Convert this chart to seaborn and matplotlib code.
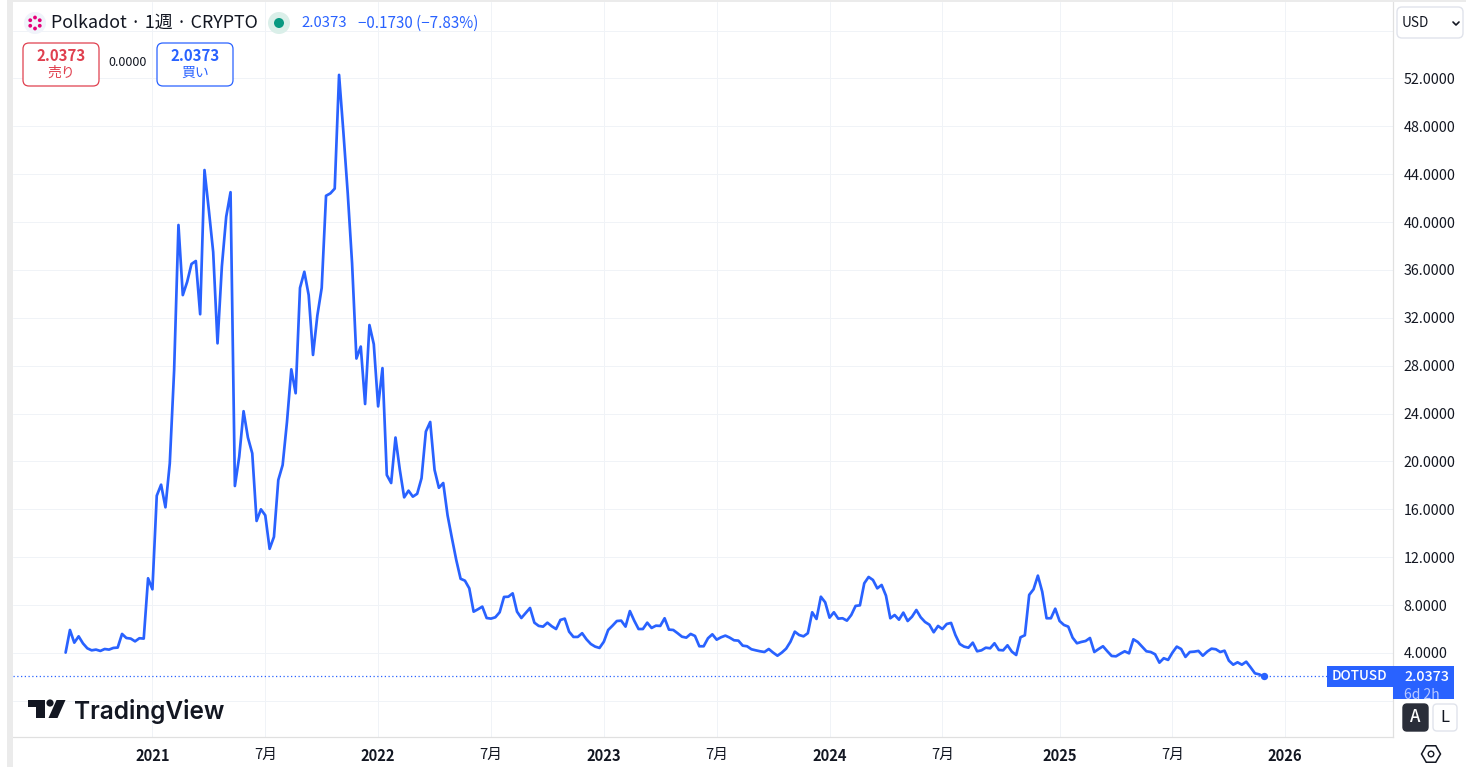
import numpy as np
import pandas as pd
import matplotlib.pyplot as plt
from matplotlib.patches import FancyBboxPatch, Rectangle, Circle, Polygon, RegularPolygon
import seaborn as sns

# weekly closes
price = [
    4.03, 5.92, 4.86, 5.39, 4.8, 4.39, 4.22, 4.28, 4.17, 4.33,
    4.28, 4.42, 4.45, 5.59, 5.25, 5.2, 4.97, 5.23, 5.2, 10.24,
    9.32, 17.14, 18.06, 16.17, 19.84, 27.6, 39.76, 33.9, 35.0, 36.5,
    36.75, 32.3, 44.35, 41.0, 37.5, 29.87, 36.3, 40.45, 42.5, 17.95,
    20.4, 24.2, 22.0, 20.68, 15.03, 16.0, 15.5, 12.7, 13.7, 18.45,
    19.7, 23.3, 27.7, 25.7, 34.5, 35.85, 33.9, 28.9, 32.2, 34.5,
    42.2, 42.4, 42.8, 52.3, 47.5, 42.4, 36.55, 28.6, 29.6, 24.8,
    31.4, 29.8, 24.6, 27.8, 18.87, 18.2, 22.0, 19.3, 17.0, 17.56,
    17.06, 17.3, 18.6, 22.5, 23.3, 19.3, 17.8, 18.2, 15.5, 13.6,
    11.77, 10.2, 10.04, 9.4, 7.45, 7.65, 7.87, 6.92, 6.87, 6.98,
    7.4, 8.68, 8.7, 8.98, 7.45, 6.92, 7.34, 7.76, 6.53, 6.26,
    6.2, 6.53, 6.23, 6.0, 6.76, 6.87, 5.78, 5.34, 5.34, 5.65,
    5.14, 4.75, 4.53, 4.42, 4.94, 5.92, 6.28, 6.67, 6.7, 6.2,
    7.5, 6.7, 6.0, 6.0, 6.53, 6.09, 6.28, 6.26, 6.9, 5.95,
    5.92, 5.65, 5.36, 5.28, 5.59, 5.42, 4.56, 4.56, 5.23, 5.56,
    5.11, 5.31, 5.45, 5.28, 5.06, 5.03, 4.61, 4.56, 4.31, 4.22,
    4.14, 4.08, 4.33, 4.03, 3.77, 4.03, 4.36, 4.94, 5.78, 5.5,
    5.39, 5.65, 7.4, 6.84, 8.7, 8.23, 6.95, 7.4, 6.87, 6.9,
    6.7, 7.17, 7.93, 7.98, 9.82, 10.35, 10.1, 9.4, 9.68, 8.79,
    6.9, 7.17, 6.78, 7.37, 6.67, 7.03, 7.59, 6.98, 6.59, 6.36,
    5.73, 6.26, 6.0, 6.42, 6.51, 5.5, 4.75, 4.53, 4.44, 4.86,
    4.14, 4.22, 4.44, 4.39, 4.81, 4.25, 4.22, 4.64, 4.11, 3.83,
    5.31, 5.48, 8.85, 9.32, 10.46, 9.12, 6.9, 6.9, 7.7, 6.67,
    6.34, 6.2, 5.28, 4.81, 4.92, 5.0, 5.25, 4.08, 4.33, 4.56,
    4.14, 3.75, 3.72, 3.94, 4.14, 3.97, 5.14, 4.92, 4.53, 4.14,
    4.08, 3.89, 3.19, 3.56, 3.42, 4.03, 4.53, 4.33, 3.67, 4.08,
    4.11, 4.17, 3.77, 4.11, 4.36, 4.31, 4.08, 4.19, 3.36, 3.02,
    3.22, 3.02, 3.27, 2.8, 2.3, 2.21, 2.0373,
]
y_grid = list(range(0, 60, 4))
y_labeled = list(range(4, 56, 4))
x_ticks = ['2021-01-04', '2021-07-05', '2022-01-03', '2022-07-04', '2023-01-02', '2023-07-03',
           '2024-01-01', '2024-07-01', '2025-01-06', '2025-07-07', '2026-01-05']
x_labels = ['2021', '7月', '2022', '7月', '2023', '7月', '2024', '7月', '2025', '7月', '2026']

BLUE = '#2962ff'
INK = '#131722'
GRID = '#f0f3f7'
EDGE = '#e0e3eb'
RED = '#e0404f'
JP = ['Noto Sans CJK JP', 'DejaVu Sans']

sns.set_theme(style='whitegrid', rc={'grid.color': GRID, 'grid.linewidth': 0.72,
                                     'axes.edgecolor': '#e0e0e0', 'axes.linewidth': 0.9})
plt.rcParams['font.family'] = JP

df = pd.DataFrame({'date': pd.date_range('2020-08-17', periods=len(price), freq='W-MON'), 'price': price})

fig = plt.figure(figsize=(14.66, 7.67), dpi=100)
ax = fig.add_axes([13 / 1466, 1 - 736.5 / 767, (1392.5 - 13) / 1466, (736.5 - 2) / 767])

sns.lineplot(data=df, x='date', y='price', color=BLUE, linewidth=1.95, ax=ax, zorder=3)
sns.scatterplot(data=df.tail(1), x='date', y='price', color=BLUE, s=28, linewidth=0, ax=ax, zorder=4)
ax.axhline(price[-1], color=BLUE, linestyle=(0, (1, 2)), linewidth=0.9, zorder=2)

start = df['date'].iloc[0]
ax.set_xlim(start - pd.Timedelta(weeks=12.12), start + pd.Timedelta(weeks=305.7))
ax.set_ylim(-2.98, 58.39)

ax.set_xticks(pd.to_datetime(x_ticks))
ax.set_xticklabels(x_labels, fontsize=10.6, color=INK)
for lab, txt in zip(ax.get_xticklabels(), x_labels):
    if txt != '7月':
        lab.set_fontweight('bold')
ax.yaxis.tick_right()
ax.set_yticks(y_grid)
ax.set_yticklabels([f'{v:.4f}' if v in y_labeled else '' for v in y_grid], fontsize=10.3, color=INK, ha='left')
ax.tick_params(axis='y', length=0, pad=8)
ax.tick_params(axis='x', length=0, pad=8)
ax.set_xlabel('')
ax.set_ylabel('')
ax.spines['top'].set_visible(False)
ax.spines['left'].set_visible(False)

# page furniture, laid out in pixel coordinates
ov = fig.add_axes([0, 0, 1, 1], facecolor='none')
ov.set_xlim(0, 1466)
ov.set_ylim(767, 0)
ov.axis('off')


def box(x0, y0, x1, y1, fc='white', ec=EDGE, r=4, lw=1.0, z=5):
    ov.add_patch(FancyBboxPatch((x0 + r, y0 + r), x1 - x0 - 2 * r, y1 - y0 - 2 * r,
                                boxstyle=f'round,pad={r},rounding_size={r}', fc=fc, ec=ec, lw=lw, zorder=z))


def label(x, y, s, size=9.6, color=INK, ha='center', weight='normal', z=6, **kw):
    ov.text(x, y, s, fontsize=size, color=color, ha=ha, va='center', fontweight=weight, zorder=z, family=JP, **kw)


# window edges
ov.add_patch(Rectangle((7, 0), 6, 767, fc='#ebebeb', ec='none'))
ov.add_patch(Rectangle((13, 0), 1453, 2, fc='#ebebeb', ec='none'))

# header
ov.add_patch(Circle((35, 23), 11, fc='#f0f3fa', ec='none', zorder=5))
for a in np.arange(0, 360, 60):
    ov.add_patch(Circle((35 + 5.5 * np.cos(np.radians(a + 30)), 23 + 5.5 * np.sin(np.radians(a + 30))), 1.9,
                        fc='#e6007a', ec='none', zorder=6))
label(51, 23, 'Polkadot · 1週 · CRYPTO', size=12.9, ha='left')
ov.add_patch(Circle((279, 23), 11, fc='#daefe9', ec='none', zorder=5))
ov.add_patch(Circle((279, 23), 5, fc='#089981', ec='none', zorder=6))
label(301, 23, '2.0373', size=10.7, color=BLUE, ha='left')
label(358, 23, '−0.1730 (−7.83%)', size=10.9, color=BLUE, ha='left')

# sell / buy buttons
box(23, 43, 99, 86, ec=RED, r=6, lw=0.9)
label(61, 56, '2.0373', size=10.8, color=RED, weight='bold')
label(61, 73, '売り', size=10, color=RED)
label(128, 63, '0.0000', size=9)
box(157, 43, 233, 86, ec=BLUE, r=6, lw=0.9)
label(195, 56, '2.0373', size=10.8, color=BLUE, weight='bold')
label(195, 73, '買い', size=10, color=BLUE)

# currency selector
box(1397, 7, 1463, 38, ec=EDGE, r=5)
label(1415, 23, 'USD', size=9.8)
ov.plot([1453, 1456, 1459], [22, 25, 22], color=INK, lw=1.2, zorder=6)

# last price tags
ov.add_patch(Rectangle((1327, 666), 65.5, 21, fc=BLUE, ec='none', zorder=5))
label(1359.5, 676.5, 'DOTUSD', size=9.8, color='white', weight='medium')
ov.add_patch(Rectangle((1393, 666), 61, 33, fc=BLUE, ec='none', zorder=5))
label(1426.5, 677, '2.0373', size=10.3, color='white', weight='medium')
t = ov.text(1404, 695, '6d 2h', fontsize=10, color='#b8c9ff', ha='left', va='center', family=JP, zorder=6)
t.set_clip_path(Rectangle((1393, 666), 61, 33, transform=ov.transData))

# A / L buttons
box(1403, 704, 1428, 731, fc='#2a2e39', ec='#2a2e39', r=4)
label(1415.5, 717.5, 'A', size=12, color='white', weight='medium')
box(1433, 704, 1457, 731, ec=EDGE, r=4)
label(1445, 717.5, 'L', size=12)

# settings hexagon
ov.add_patch(RegularPolygon((1431, 754), 6, radius=9.5, orientation=np.pi / 6, fc='white', ec=INK, lw=1.1, zorder=6))
ov.add_patch(Circle((1431, 754), 2.8, fc='white', ec=INK, lw=1.0, zorder=7))

# TradingView mark
ov.add_patch(Polygon([(28, 700), (44.5, 700), (44.5, 718), (36, 718), (36, 707), (28, 707)], fc=INK, ec='none', zorder=6))
ov.add_patch(Circle((50, 703), 3.6, fc=INK, ec='none', zorder=6))
ov.add_patch(Polygon([(56.5, 700), (65.5, 700), (57.5, 718), (48.5, 718)], fc=INK, ec='none', zorder=6))
ov.text(74, 711, 'TradingView', fontsize=17.6, color=INK, ha='left', va='center', family='Inter',
        fontweight='semibold', zorder=6)

fig.savefig('out.png', dpi=100)
